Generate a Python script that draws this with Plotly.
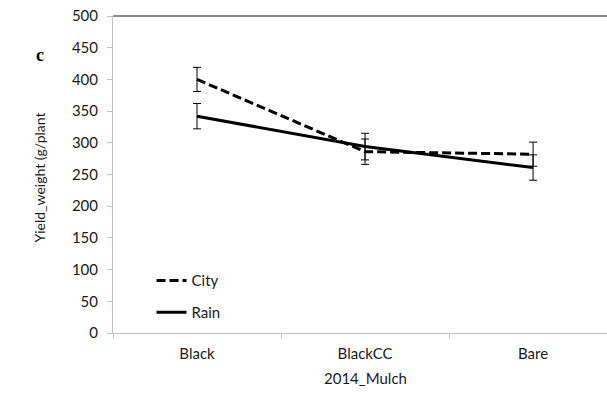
import plotly.graph_objects as go

# Mulch treatments (2014) and mean yield per plant for each water source
categories = ["Black", "BlackCC", "Bare"]
city_yield = [400, 286, 282]
city_err = [19, 20, 19]
rain_yield = [342, 294, 261]
rain_err = [20, 21, 20]
y_ticks = [0, 50, 100, 150, 200, 250, 300, 350, 400, 450, 500]

axis_grey = "#c0c0c0"
text_font = dict(family="Lato, Noto Sans, sans-serif", size=15, color="#1a1a1a")

fig = go.Figure()

fig.add_trace(go.Scatter(
    x=categories, y=city_yield, name="City", mode="lines", legend="legend",
    line=dict(color="black", width=3, dash="9px,4px"),
    error_y=dict(type="data", array=city_err, color="black", thickness=1, width=4),
))
fig.add_trace(go.Scatter(
    x=categories, y=rain_yield, name="Rain", mode="lines", legend="legend2",
    line=dict(color="black", width=3),
    error_y=dict(type="data", array=rain_err, color="black", thickness=1, width=4),
))

legend_style = dict(xanchor="left", yanchor="middle", font=text_font,
                    bgcolor="rgba(0,0,0,0)", itemwidth=30)

fig.update_layout(
    width=607, height=394,
    margin=dict(l=113, r=0, t=16, b=61),
    paper_bgcolor="white", plot_bgcolor="white",
    showlegend=True,
    legend=dict(x=0.078, y=0.165, **legend_style),
    legend2=dict(x=0.078, y=0.065, **legend_style),
    xaxis=dict(
        type="category", range=[-0.5, 2.44],
        showline=True, linecolor=axis_grey, linewidth=1,
        ticks="outside", tickson="boundaries", ticklen=5, tickcolor=axis_grey,
        ticklabelstandoff=7,
        showgrid=False, zeroline=False, tickfont=text_font,
    ),
    yaxis=dict(
        range=[0, 500], tickvals=y_ticks,
        showline=True, linecolor=axis_grey, linewidth=1,
        ticks="outside", ticklen=5, tickcolor=axis_grey,
        ticklabelstandoff=6,
        showgrid=False, zeroline=False, tickfont=text_font,
    ),
    shapes=[dict(type="line", xref="paper", yref="paper", x0=0, x1=1, y0=1, y1=1,
                 line=dict(color="#8c8c8c", width=2))],
    annotations=[
        dict(text="Yield_weight (g/plant", xref="paper", yref="paper",
             x=-0.148, y=0.49, xanchor="center", yanchor="middle", textangle=-90,
             showarrow=False, font=dict(family="Lato, Noto Sans, sans-serif", size=14, color="#1a1a1a")),
        dict(text="2014_Mulch", xref="x", yref="paper", x=1, y=0, yshift=-45,
             xanchor="center", yanchor="middle", showarrow=False, font=text_font),
        dict(text="<b>c</b>", xref="paper", yref="paper", x=-0.148, y=0.878,
             xanchor="center", yanchor="middle", showarrow=False,
             font=dict(family="Liberation Serif, serif", size=18, color="black")),
    ],
)

fig.write_html("out.html")
